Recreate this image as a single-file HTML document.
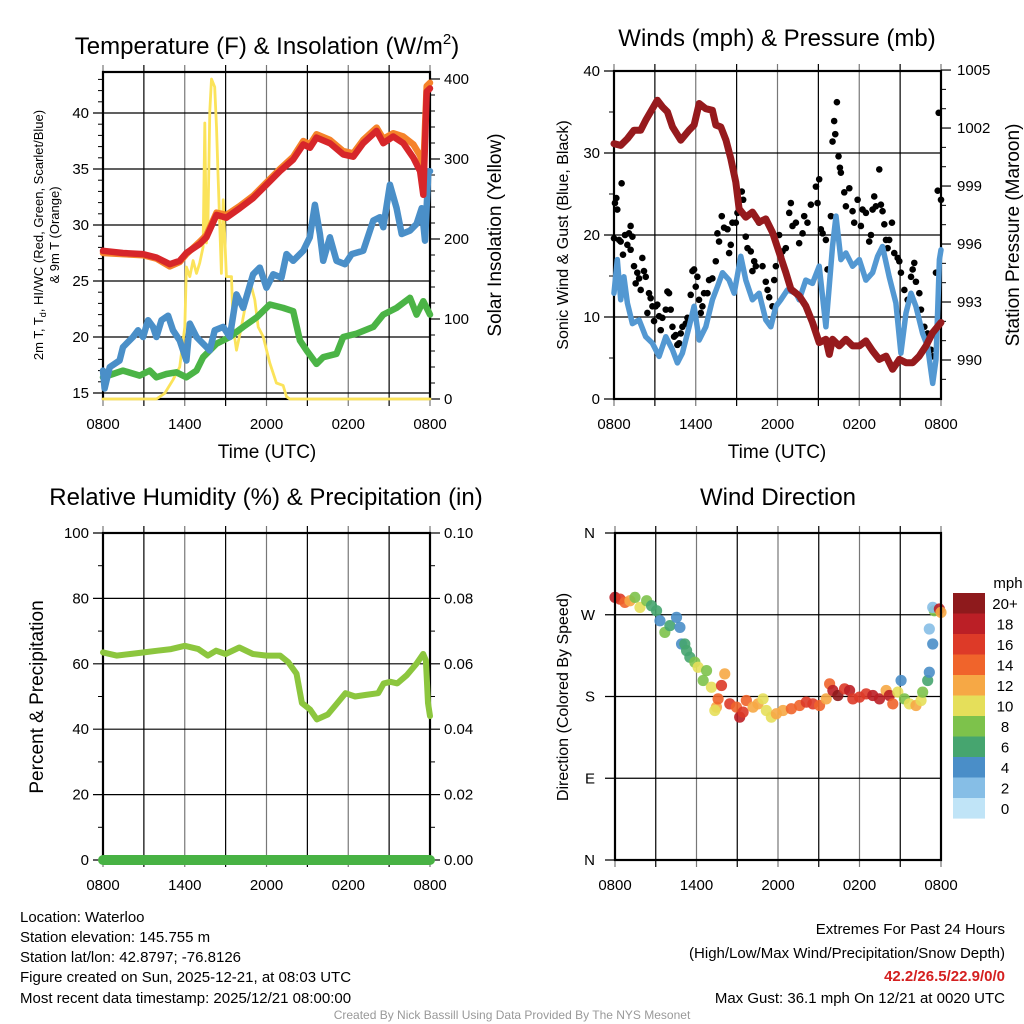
<!DOCTYPE html>
<html><head><meta charset="utf-8"><style>
html,body{margin:0;padding:0;background:#fff;}
svg{display:block;font-family:"Liberation Sans",Arial,sans-serif;}
</style></head><body>
<svg id="fig" width="1024" height="1024" viewBox="0 0 1024 1024" xmlns="http://www.w3.org/2000/svg">
<rect width="1024" height="1024" fill="#fff"/>
<text x="267" y="54" font-size="24" text-anchor="middle">Temperature (F) &amp; Insolation (W/m<tspan font-size="15" dy="-10">2</tspan><tspan dy="10">)</tspan></text>
<text x="777" y="46" font-size="24" text-anchor="middle">Winds (mph) &amp; Pressure (mb)</text>
<text x="266" y="505" font-size="24" text-anchor="middle">Relative Humidity (%) &amp; Precipitation (in)</text>
<text x="778" y="505" font-size="24" text-anchor="middle">Wind Direction</text>
<g id="layer"></g>
<g font-size="15">
<text x="20" y="922">Location: Waterloo</text>
<text x="20" y="942">Station elevation: 145.755 m</text>
<text x="20" y="962">Station lat/lon: 42.8797; -76.8126</text>
<text x="20" y="982">Figure created on Sun, 2025-12-21, at 08:03 UTC</text>
<text x="20" y="1003">Most recent data timestamp: 2025/12/21 08:00:00</text>
<text x="1005" y="934" text-anchor="end">Extremes For Past 24 Hours</text>
<text x="1005" y="958" text-anchor="end">(High/Low/Max Wind/Precipitation/Snow Depth)</text>
<text x="1005" y="981" text-anchor="end" fill="#d42020" font-weight="bold">42.2/26.5/22.9/0/0</text>
<text x="1005" y="1003" text-anchor="end">Max Gust: 36.1 mph On 12/21 at 0020 UTC</text>
</g>
<text x="512" y="1019" font-size="12" fill="#999" text-anchor="middle">Created By Nick Bassill Using Data Provided By The NYS Mesonet</text>
</svg>
<script>
// ---- data ----
const timeLabels = ["0800","1400","2000","0200","0800"];
const redT = [0,1.47,2.94,3.92,4.9,5.63,6.12,7.1,7.59,8.33,9.06,10.04,11.02,12,12.98,13.96,14.7,15.19,15.67,16.65,17.63,18.37,19.1,20.08,20.57,21.3,22.04,22.78,23.27,23.51,23.76,24];
const redV = [27.7,27.5,27.4,27.1,26.5,26.8,27.5,28.3,28.9,30.9,30.65,31.5,32.4,33.6,34.8,35.85,37.2,36.9,37.8,37.3,36.3,36.1,37.3,38.4,37.3,37.9,37.3,36,34.8,32.7,41.9,42.2];
const orangeV = [27.5,27.4,27.3,27.0,26.3,26.7,27.4,28.5,29.1,31.1,30.9,31.7,32.6,33.8,35.0,36.1,37.5,37.2,38.1,37.6,36.6,36.4,37.6,38.7,37.7,38.2,37.9,37.2,36.2,35.0,42.4,42.7];
const blueT = [0,0.12,0.49,1.22,1.47,2.2,2.57,2.94,3.31,3.67,3.92,4.29,4.78,5.14,5.63,6.12,6.37,6.86,7.35,7.84,8.2,8.82,9.31,9.8,10.29,11.02,11.51,12.0,12.49,13.1,13.47,13.96,14.69,15.18,15.55,15.92,16.16,16.65,17.14,17.76,18.25,19.1,19.84,20.33,20.57,21.06,21.55,21.92,22.53,23.02,23.39,23.63,23.88,24];
const blueV = [17.0,15.4,17.3,17.9,19.1,20.0,20.6,20.0,21.5,20.9,20.0,21.5,21.9,20.6,19.7,17.9,21.2,20.0,19.4,18.8,20.6,20.9,20.0,23.8,22.6,25.6,26.2,24.4,25.6,25.3,27.4,26.8,27.7,28.9,31.8,29.2,26.8,28.9,26.8,26.5,27.4,27.7,30.4,30.7,29.8,33.6,31.5,29.2,29.5,30.1,31.5,28.6,34.8,34.8];
const greenT = [0,0.73,1.47,2.69,3.43,3.92,4.65,5.39,6.12,6.86,7.35,8.33,9.31,10.29,11.27,12.24,13.22,13.96,14.45,14.94,15.67,16.16,17.14,17.63,18.61,19.84,20.57,21.55,22.53,23.02,23.51,24];
const greenV = [16.4,16.7,17.0,16.55,17.0,16.4,16.7,16.85,16.4,17.0,18.2,19.4,20.0,20.9,21.75,22.9,22.6,22.3,19.7,18.8,17.6,18.2,18.5,20.0,20.3,20.9,22.0,22.6,23.5,22.0,23.2,22.0];
const solarT = [0,3.92,4.53,5.14,5.63,6.0,6.12,6.37,6.61,6.86,7.1,7.35,7.47,7.59,7.71,7.84,7.96,8.2,8.33,8.45,8.69,8.82,9.06,9.43,9.55,9.8,10.16,10.53,10.9,11.14,11.39,11.76,12.24,12.73,13.22,13.47,13.71,24];
const solarV = [0,0,7,24,40,90,165,153,173,157,170,190,345,195,224,360,400,390,340,278,157,249,153,153,90,61,90,124,140,124,90,78,45,20,17,3,0,0];
const presT = [0,0.49,0.98,1.47,1.96,2.33,2.82,3.18,3.55,3.92,4.29,4.9,5.51,5.88,6.25,6.74,7.22,7.47,7.84,8.22,8.57,8.94,9.18,9.67,10.16,10.65,11.14,11.63,12.12,12.61,12.98,13.59,14.08,14.57,15.06,15.55,15.8,16.04,16.53,17.02,17.51,18.0,18.49,18.98,19.47,19.96,20.45,20.94,21.43,21.92,22.41,22.9,23.39,24];
const presV = [1001.19,1001.1,1001.45,1001.89,1001.89,1002.4,1003.0,1003.44,1003.1,1002.84,1002.06,1001.37,1001.89,1002.15,1003.27,1003.0,1002.92,1002.15,1002.06,1001.37,1000.42,999.2,997.82,997.39,997.65,997.13,997.3,996.6,995.57,994.53,993.67,993.32,992.8,991.94,990.9,991.07,990.29,991.07,990.73,991.07,990.73,990.73,990.99,990.47,990.03,990.2,989.52,990.03,989.86,989.86,990.2,990.73,991.42,991.94];
const windT = [0,0.24,0.49,0.73,0.98,1.35,1.84,2.33,2.82,3.31,3.8,4.29,4.65,5.02,5.51,5.88,6.25,6.74,7.22,7.59,7.96,8.45,8.82,9.31,9.67,10.16,10.65,11.14,11.51,11.88,12.24,12.73,13.35,13.59,14.08,14.57,15.06,15.55,16.04,16.29,16.65,17.02,17.51,18.0,18.49,18.98,19.35,19.71,20.2,20.69,21.06,21.43,21.8,22.16,22.65,23.02,23.39,23.63,23.88,24];
const windV = [12.9,17.0,12.1,14.9,11.7,9.2,9.65,7.6,6.8,5.2,7.6,6.0,4.4,5.6,8.8,11.3,7.2,8.8,12.1,13.7,15.4,14.5,12.9,17.4,14.5,12.1,12.9,9.65,8.8,11.3,12.1,13.3,12.9,12.1,14.5,14.1,16.2,8.8,18.6,22.3,17.0,17.8,16.2,17.0,14.5,15.4,17.4,18.6,14.9,11.7,5.6,10.5,12.9,11.3,8.0,6.4,1.9,4.8,17.0,18.2];
const gustT = [0,0.07,0.17,0.24,0.37,0.49,0.56,0.66,0.81,0.98,1.1,1.22,1.35,1.22,1.47,1.59,1.71,1.84,1.96,2.08,2.2,2.33,2.57,2.69,2.45,2.82,2.94,3.06,3.18,3.31,3.43,3.55,3.8,3.92,4.04,4.16,4.29,4.41,4.53,4.65,4.78,4.9,5.02,5.27,5.39,5.63,5.76,5.88,6.0,6.12,6.24,6.37,6.49,6.61,6.86,6.98,7.22,7.47,7.59,7.71,7.91,8.08,8.33,8.45,8.57,8.69,8.94,9.06,9.18,9.38,9.48,9.67,9.8,10.04,10.16,10.29,10.41,10.65,10.9,11.14,11.27,11.39,11.63,11.76,11.88,12.12,12.25,12.37,12.61,12.86,12.98,13.1,13.35,13.59,13.84,13.96,14.2,14.45,14.82,15.06,14.94,15.18,15.31,15.55,15.67,15.92,16.04,16.16,16.24,16.36,16.48,16.58,16.65,16.9,17.02,17.27,17.51,17.63,17.88,18.12,18.24,18.49,18.73,18.86,18.98,19.1,19.22,19.47,19.59,19.71,19.84,19.96,20.08,20.2,20.4,20.57,20.82,20.94,21.06,21.31,21.55,21.8,21.92,22.04,22.16,22.41,22.53,22.78,23.02,23.27,23.39,23.63,23.76,23.83,24.0];
const gustV = [19.6,23.9,24.5,23.1,19.4,19.2,26.3,17.6,20.0,18.8,20.2,21.1,19.8,18.2,16.2,14.1,15.4,14.7,13.3,17.2,15.6,14.9,12.9,12.3,10.5,11.3,9.5,11.3,11.5,10.1,8.4,9.9,10.9,13.1,12.9,10.9,8.8,7.6,7.8,6.6,6.8,8.0,8.8,9.2,9.9,12.7,15.6,15.8,13.7,14.9,12.1,10.5,11.3,12.9,12.9,14.5,14.7,16.8,20.2,19.2,22.3,20.9,20.7,17.8,18.8,21.5,21.5,22.7,23.1,25.3,24.3,19.8,18.4,18.0,15.6,16.8,16.2,21.5,16.2,14.3,13.3,12.4,11.3,14.5,16.2,20.0,17.4,18.0,18.4,22.7,23.9,21.1,21.5,19.0,20.2,22.3,21.5,23.7,25.9,26.8,23.9,20.7,20.2,19.4,15.8,22.3,31.4,33.9,32.3,36.2,29.6,28.2,27.6,25.2,23.5,25.7,22.9,21.5,24.3,21.1,23.1,22.7,19.2,20.0,23.1,24.7,23.5,28.0,23.7,22.9,21.3,19.4,18.4,19.4,21.5,17.8,17.2,16.8,15.4,13.3,12.1,14.9,15.8,16.6,14.3,12.9,10.9,8.8,8.0,6.0,5.2,15.4,25.4,34.9,24.3];
const rhT = [0,1,2,3,4,5,6,7,7.7,8.3,9,10,11,12,13,13.6,14.2,14.6,15.2,15.7,16.5,17.2,17.8,18.5,19.3,20.2,20.6,21.1,21.6,22.3,23,23.5,23.7,23.85,24];
const rhV = [63.5,62.5,63,63.5,64,64.5,65.5,64.5,62.5,64,63,65,63,62.5,62.5,60.5,57,48,46,43,44.5,48,51,50,50.5,51,54,54.5,54,56.5,60,63,61,48,44];
const precipT = [0,24];
const precipV = [0,0];
const dirT = [0,0.37,0.73,1.1,1.47,1.84,2.33,2.69,3.06,3.31,3.67,4.04,4.53,4.78,4.9,5.14,5.27,5.51,5.88,6.12,6.74,6.49,7.1,7.84,8.08,7.47,7.35,7.59,8.45,8.94,9.18,9.43,9.67,10.16,10.53,10.9,11.14,11.51,11.88,12.37,12.98,13.59,14.08,14.57,15.06,15.55,15.8,16.04,16.41,16.9,17.27,17.51,18.0,18.49,18.98,19.47,19.96,20.2,20.45,20.82,21.06,21.31,21.67,22.16,22.53,22.65,23.02,23.14,23.39,23.14,23.51,23.39,23.88,24.0];
const dirV = [289.1,287.2,283.6,285.4,289.1,278.1,285.4,279.9,274.4,263.4,250.6,258.0,267.1,256.1,237.8,237.8,230.5,223.2,217.7,212.2,208.5,197.6,190.2,192.1,204.9,168.3,164.6,177.4,171.9,168.3,157.3,162.8,175.6,168.3,171.9,177.4,164.6,157.3,161.0,164.6,166.5,170.1,173.8,171.9,170.1,177.4,193.9,186.6,181.1,188.4,186.6,177.4,179.3,182.9,181.1,177.4,186.6,181.1,171.9,184.8,197.6,177.4,171.9,170.1,175.6,184.8,197.6,206.7,237.8,254.3,274.4,278.1,276.3,272.6];
const dirSpd = [18,16,14,12,8,10,8,6,6,4,8,6,4,4,4,6,6,6,8,10,8,8,10,16,12,12,10,14,16,14,18,16,14,12,12,10,10,10,12,12,14,14,16,16,14,12,14,18,20,16,18,16,16,16,18,18,12,18,14,10,4,8,10,12,10,8,6,4,4,2,8,2,18,12];
const cbLabels = ["20+","18","16","14","12","10","8","6","4","2","0"];
const cbColors = ["#8e1a1c","#bb1f26","#dd3a28","#f0642b","#f6a845","#e5df5a","#7dc24b","#46a56f","#4a8ec8","#86bee6","#c0e4f7"];

// ---- helpers ----
const NS = "http://www.w3.org/2000/svg";
const layer = document.getElementById("layer");
function mk(tag, attrs, parent){const e=document.createElementNS(NS,tag);for(const k in attrs)e.setAttribute(k,attrs[k]);(parent||layer).appendChild(e);return e;}
function txt(x,y,s,size,anchor,parent,rot){const e=mk("text",{x:x,y:y,"font-size":size,"text-anchor":anchor||"middle"},parent);if(rot)e.setAttribute("transform","rotate(-90 "+x+" "+y+")");e.textContent=s;return e;}
function lineP(ts,vs,xf,yf,color,w,name){let d="";ts.forEach((t,i)=>{d+=(i?"L":"M")+xf(t).toFixed(1)+" "+yf(vs[i]).toFixed(1);});const p=mk("path",{d:d,fill:"none",stroke:color,"stroke-width":w,"stroke-linejoin":"round","stroke-linecap":"round"});return p;}

function frame(x0,x1,y0,y1,name){
  const g=mk("g",{});
  
  
  const xs=t=>x0+t*(x1-x0)/24;
  for(let i=0;i<=8;i++){const x=xs(i*3);
    mk("line",{x1:x,x2:x,y1:y0-7,y2:y1+7,stroke:(i%2?"#000":"#777"),"stroke-width":1.2},g);}
  timeLabels.forEach((s,i)=>{const e=txt(xs(i*6),0,s,15,"middle",g);});
  return {g,xs};
}

// ---- Panel 1: temperature ----
{
  const x0=103,x1=430,y0=72,y1=399;
  const {g,xs}=frame(x0,x1,y0,y1,"temp-chart");
  g.querySelectorAll("text").forEach(e=>e.setAttribute("y",429));
  const yT=v=>113+(40-v)*11.2, yS=w=>399-w*0.8;
  [15,20,25,30,35,40].forEach(v=>{mk("line",{x1:x0-10,x2:x1,y1:yT(v),y2:yT(v),stroke:"#000","stroke-width":1.2},g);const e=txt(x0-14,yT(v)+5,String(v),15,"end",g);});
  for(let v=16;v<=43;v++){if(v%5)mk("line",{x1:x0-5,x2:x0,y1:yT(v),y2:yT(v),stroke:"#000"},g);}
  [0,100,200,300,400].forEach(w=>{mk("line",{x1:x1,x2:x1+10,y1:yS(w),y2:yS(w),stroke:"#000","stroke-width":1.2},g);const e=txt(x1+14,yS(w)+5,String(w),15,"start",g);});
  for(let w=20;w<400;w+=20){if(w%100)mk("line",{x1:x1,x2:x1+5,y1:yS(w),y2:yS(w),stroke:"#000"},g);}
  lineP(solarT,solarV,xs,yS,"#fbe35a",2.8,"solar-line");
  lineP(greenT,greenV,xs,yT,"#4bb446",6.5,"dewpoint-line");
  lineP(blueT,blueV,xs,yT,"#4a8fc8",6.5,"windchill-line");
  lineP(redT,orangeV,xs,yT,"#f5832a",6.5,"temp-9m-line");
  lineP(redT,redV,xs,yT,"#d7262a",6.5,"temp-2m-line");
  mk("rect",{x:x0,y:y0,width:x1-x0,height:y1-y0,fill:"none",stroke:"#000","stroke-width":2.2},g);
  const a=txt(43,235,"2m T, T",13,"middle",g,true);a.textContent="";
  a.innerHTML='2m T, T<tspan font-size="9" dy="3">d</tspan><tspan dy="-3">, HI/WC (Red, Green, Scarlet/Blue)</tspan>';
  
  const b=txt(59,235,"& 9m T (Orange)",13,"middle",g,true);
  const c=txt(501,235,"Solar Insolation (Yellow)",19,"middle",g,true);
  const d=txt(267,458,"Time (UTC)",19,"middle",g);
}
// ---- Panel 2: winds ----
{
  const x0=614,x1=941,y0=71,y1=399;
  const {g,xs}=frame(x0,x1,y0,y1,"wind-chart");
  g.querySelectorAll("text").forEach(e=>e.setAttribute("y",429));
  const yW=v=>399-v*8.2, yP=p=>360-(p-990)*19.33;
  [0,10,20,30,40].forEach(v=>{mk("line",{x1:x0-10,x2:x1,y1:yW(v),y2:yW(v),stroke:"#000","stroke-width":1.2},g);const e=txt(x0-14,yW(v)+5,String(v),15,"end",g);});
  for(let v=5;v<40;v+=10)mk("line",{x1:x0-5,x2:x0,y1:yW(v),y2:yW(v),stroke:"#000"},g);
  [990,993,996,999,1002,1005].forEach(p=>{mk("line",{x1:x1,x2:x1+10,y1:yP(p),y2:yP(p),stroke:"#000","stroke-width":1.2},g);const e=txt(x1+16,yP(p)+5,String(p),15,"start",g);});
  for(let p=989;p<1005;p++){if(p%3)mk("line",{x1:x1,x2:x1+5,y1:yP(p),y2:yP(p),stroke:"#000"},g);}
  lineP(windT,windV,xs,yW,"#5398d2",5.5,"sonic-wind-line");
  lineP(presT,presV,xs,yP,"#961a1d",7,"pressure-line");
  gustT.forEach((t,i)=>{const c=mk("circle",{cx:xs(t),cy:yW(gustV[i]),r:3.3,fill:"#000"},g);});
  mk("rect",{x:x0,y:y0,width:x1-x0,height:y1-y0,fill:"none",stroke:"#000","stroke-width":2.2},g);
  const a=txt(568,235,"Sonic Wind & Gust (Blue, Black)",16,"middle",g,true);
  const c=txt(1019,235,"Station Pressure (Maroon)",19,"middle",g,true);
  const d=txt(777,458,"Time (UTC)",19,"middle",g);
}
// ---- Panel 3: RH ----
{
  const x0=103,x1=430,y0=533,y1=860;
  const {g,xs}=frame(x0,x1,y0,y1,"rh-chart");
  g.querySelectorAll("text").forEach(e=>e.setAttribute("y",890));
  const yR=v=>860-v*3.27, yPr=v=>860-v*3270;
  [0,20,40,60,80,100].forEach(v=>{mk("line",{x1:x0-10,x2:x1,y1:yR(v),y2:yR(v),stroke:"#000","stroke-width":1.2},g);const e=txt(x0-14,yR(v)+5,String(v),15,"end",g);});
  for(let v=10;v<100;v+=20)mk("line",{x1:x0-5,x2:x0,y1:yR(v),y2:yR(v),stroke:"#000"},g);
  [0,0.02,0.04,0.06,0.08,0.10].forEach(v=>{mk("line",{x1:x1,x2:x1+10,y1:yPr(v),y2:yPr(v),stroke:"#000","stroke-width":1.2},g);const e=txt(x1+14,yPr(v)+5,v.toFixed(2),15,"start",g);});
  for(let v=0.01;v<0.1;v+=0.02)mk("line",{x1:x1,x2:x1+5,y1:yPr(v),y2:yPr(v),stroke:"#000"},g);
  lineP(rhT,rhV,xs,yR,"#8cc63e",6,"rh-line");
  lineP(precipT,precipV,xs,yPr,"#48b244",10,"precip-line");
  mk("rect",{x:x0,y:y0,width:x1-x0,height:y1-y0,fill:"none",stroke:"#000","stroke-width":2.2},g);
  const a=txt(43,697,"Percent & Precipitation",19,"middle",g,true);
}
// ---- Panel 4: direction ----
{
  const x0=615,x1=941,y0=533,y1=860;
  const {g,xs}=frame(x0,x1,y0,y1,"direction-chart");
  g.querySelectorAll("text").forEach(e=>e.setAttribute("y",890));
  const yD=d=>860-d*327/360;
  [["N",0],["E",90],["S",180],["W",270],["N",360]].forEach(([s,d])=>{mk("line",{x1:x0-10,x2:x1,y1:yD(d),y2:yD(d),stroke:"#000","stroke-width":1.2},g);const e=txt(x0-20,yD(d)+5,s,15,"end",g);});
  const ci=s=>cbColors[Math.max(0,Math.min(10,10-Math.floor(s/2)))];
  dirT.forEach((t,i)=>{const c=mk("circle",{cx:xs(t),cy:yD(dirV[i]),r:5.6,fill:ci(dirSpd[i]),"fill-opacity":0.9},g);});
  mk("rect",{x:x0,y:y0,width:x1-x0,height:y1-y0,fill:"none",stroke:"#000","stroke-width":2.2},g);
  const a=txt(568,697,"Direction (Colored By Speed)",16,"middle",g,true);
  const cb=mk("g",{});
  
  
  cbColors.forEach((c,i)=>{mk("rect",{x:953,y:593+i*20.5,width:32,height:20.6,fill:c},cb);const e=txt(1005,609+i*20.5,cbLabels[i],15,"middle",cb);});
  const m=txt(1008,588,"mph",15,"middle",cb);
}
</script>
</body></html>
